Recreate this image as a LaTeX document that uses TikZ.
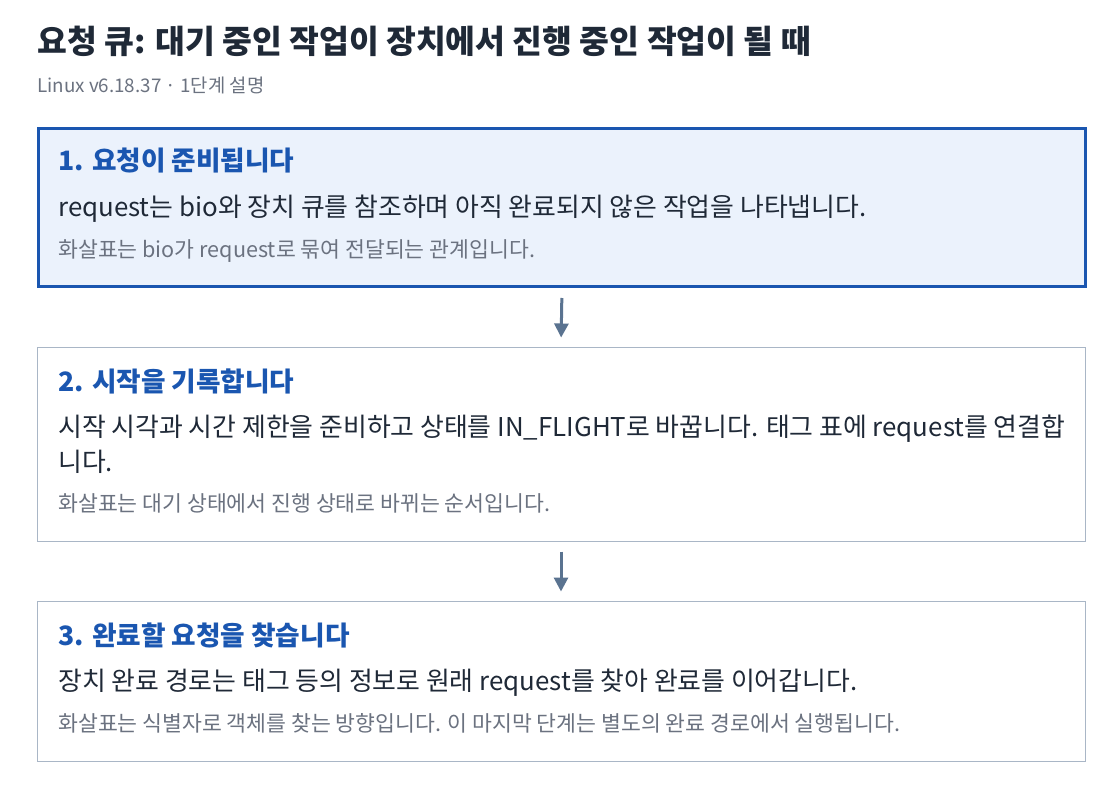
\documentclass[tikz,border=0pt]{standalone}
\usepackage{fontspec}
\setmainfont{Noto Sans CJK KR}
\usetikzlibrary{calc,arrows.meta}
\definecolor{titlegray}{HTML}{1F2937}
\definecolor{subgray}{HTML}{6B7280}
\definecolor{headblue}{HTML}{1A56B0}
\definecolor{activefill}{HTML}{EBF2FC}
\definecolor{plainedge}{HTML}{A9B6C6}
\definecolor{flowslate}{HTML}{5A7390}
\tikzset{
	stepcard/.style={draw=plainedge, line width=0.75pt, fill=white, anchor=north west, minimum width=786pt},
	activecard/.style={stepcard, draw=headblue, line width=2.25pt, fill=activefill, minimum width=785.25pt},
	stephead/.style={anchor=base west, inner sep=0pt, font=\fontsize{20pt}{24pt}\bfseries, text=headblue},
	stepbody/.style={anchor=base west, inner sep=0pt, font=\fontsize{19.4pt}{24pt}\selectfont, text=titlegray},
	stepnote/.style={anchor=base west, inner sep=0pt, font=\fontsize{16.2pt}{20pt}\selectfont, text=subgray},
	flow/.style={draw=flowslate, line width=2.25pt, -{Triangle[width=10.5pt,length=10.5pt]}, shorten <=7.5pt, shorten >=6.75pt}
}
\begin{document}
\begin{tikzpicture}[x=0.75pt, y=-0.75pt]
		%%%%% START %%%%%
		\useasboundingbox[fill=white] (0, 0) rectangle (1120, 788);
		
		\node[anchor=base west, inner sep=0pt, font=\fontsize{24.3pt}{28pt}\bfseries, text=titlegray] (title) at (37, 54) {요청 큐: 대기 중인 작업이 장치에서 진행 중인 작업이 될 때};
		\node[anchor=base west, inner sep=0pt, font=\fontsize{14.1pt}{17pt}\selectfont, text=subgray] (subtitle) at (37, 93) {Linux v6.18.37 · 1단계 설명};
		
		\node[activecard, minimum height=118.5pt] (card1) at (37, 127) {};
		\node[stepcard, minimum height=145.5pt] (card2) at (36.5, 346.5) {};
		\node[stepcard, minimum height=120pt] (card3) at (36.5, 600.5) {};
		
		\node[stephead] (head1) at ($(card1.north west)+(21, 44)$) {1. 요청이 준비됩니다};
		\node[stepbody] (body1) at ($(card1.north west)+(21, 89)$) {request는 bio와 장치 큐를 참조하며 아직 완료되지 않은 작업을 나타냅니다.};
		\node[stepnote] (note1) at ($(card1.north west)+(21, 130)$) {화살표는 bio가 request로 묶여 전달되는 관계입니다.};
		
		\node[stephead] (head2) at ($(card2.north west)+(21.5, 45)$) {2. 시작을 기록합니다};
		\node[stepbody] (body2) at ($(card2.north west)+(21.5, 89.5)$) {시작 시각과 시간 제한을 준비하고 상태를 IN\_FLIGHT로 바꿉니다. 태그 표에 request를 연결합};
		\node[stepbody] (body2tail) at ($(card2.north west)+(21.5, 124.5)$) {니다.};
		\node[stepnote] (note2) at ($(card2.north west)+(21.5, 165)$) {화살표는 대기 상태에서 진행 상태로 바뀌는 순서입니다.};
		
		\node[stephead] (head3) at ($(card3.north west)+(21.5, 45)$) {3. 완료할 요청을 찾습니다};
		\node[stepbody] (body3) at ($(card3.north west)+(21.5, 90)$) {장치 완료 경로는 태그 등의 정보로 원래 request를 찾아 완료를 이어갑니다.};
		\node[stepnote] (note3) at ($(card3.north west)+(21.5, 131)$) {화살표는 식별자로 객체를 찾는 방향입니다. 이 마지막 단계는 별도의 완료 경로에서 실행됩니다.};
		
		\draw[flow] (card1.south) -- (card2.north);
		\draw[flow] (card2.south) -- (card3.north);
		%%%%% END %%%%%
	\end{tikzpicture}
\end{document}
